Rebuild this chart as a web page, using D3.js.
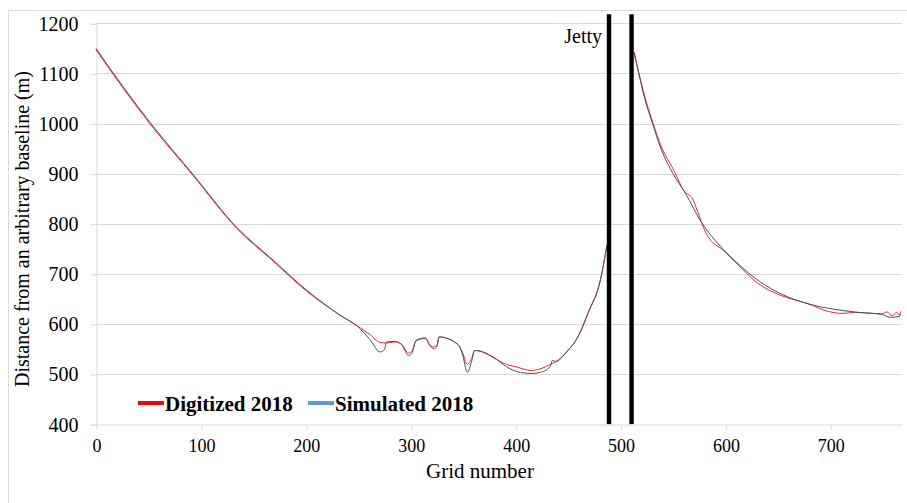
<html>
<head>
<style type="text/css">
	body { margin: 0; background: white; }
	svg text { font-family: "Liberation Serif", "DejaVu Serif", serif; fill: black; }
	.grid line { stroke: #d9d9d9; stroke-width: 1; }
	.axis path, .axis line { stroke: #d9d9d9; }
	.line.digitized { fill: none; stroke: #f22; stroke-width: 1; }
	.line.simulated { fill: none; stroke: #44546a; stroke-width: 1; }
</style>
<script src="https://d3js.org/d3.v7.min.js"></script>
</head>
<body>
<script type="text/javascript">

// simulated 2018 shoreline (grid number, distance); null = break at the jetty
var simGrid = [0, 26, 55, 93, 134, 169, 201, 230, 252, 261, 271, 275, 277, 285, 291, 298, 301, 305, 314, 318, 322, 325, 327,
	345, 349, 354, 358, 361, 382, 388, 401, 415, 423, 433, 435, 438, 449, 460, 469, 481, 487,
	500,
	513, 517, 523, 530, 539, 550, 562, 577, 593, 612, 631, 654, 679, 701, 727, 749, 757, 766, 767];
var simValue = [1150, 1073, 993, 897, 793, 727, 667, 621, 590, 569, 544, 549, 564, 565, 559, 537, 541, 567, 572, 559, 550, 555, 574,
	559, 542, 503, 525, 547, 529, 519, 505, 501, 503, 515, 527, 525, 545, 577, 622, 690, 757,
	null,
	1140, 1103, 1050, 1003, 947, 900, 860, 803, 760, 720, 687, 659, 640, 630, 623, 619, 613, 615, 621];

// digitized 2018 shoreline
var digGrid = [0, 26, 55, 93, 134, 169, 201, 230, 252, 261, 271, 277, 285, 291, 298, 301, 305, 314, 318, 322, 325, 327,
	345, 349, 354, 358, 361, 382, 388, 401, 415, 423, 433, 438, 449, 460, 469, 481, 487,
	500,
	513, 517, 523, 530, 539, 550, 562, 565, 568, 573, 581, 600, 612, 631, 641, 654, 679, 698, 711, 724, 733, 749, 754, 759, 763, 766, 767];
var digValue = [1147, 1070, 990, 895, 791, 725, 665, 621, 592, 579, 563, 562, 564, 560, 542, 545, 566, 571, 557, 554, 557, 574,
	559, 545, 519, 531, 547, 529, 522, 514, 507, 510, 519, 524, 545, 576, 621, 689, 757,
	null,
	1143, 1105, 1055, 1007, 953, 910, 862, 858, 852, 827, 783, 743, 718, 681, 668, 656, 640, 625, 621, 623, 622, 620, 624, 616, 623, 618, 625];

var jettyGrid = [489, 510.5];
var jettyTop = 1218;

var xTicks = [0, 100, 200, 300, 400, 500, 600, 700];
var yTicks = [400, 500, 600, 700, 800, 900, 1000, 1100, 1200];

var seriesNames = ["Digitized 2018", "Simulated 2018"];
var seriesColors = ["#ff0000", "#5b9bd5"];

var serif = "Liberation Serif, DejaVu Serif, serif";

function draw() {
	var width = 907, height = 503;

	var x = d3.scaleLinear().domain([0, 768]).range([96, 901.7]);
	var y = d3.scaleLinear().domain([400, 1200]).range([424.1, 23.3]);

	var svg = d3.select("body").append("svg")
		.attr("width", width)
		.attr("height", height);

	// outer chart border
	svg.append("rect")
		.attr("x", 8.5).attr("y", 10.5)
		.attr("width", 910).attr("height", 500)
		.attr("fill", "none").attr("stroke", "#d9d9d9");

	// horizontal gridlines
	svg.append("g").attr("class", "grid")
		.selectAll("line").data(yTicks.slice(1)).enter()
		.append("line")
			.attr("x1", x(0)).attr("x2", x(768))
			.attr("y1", function(d) { return Math.round(y(d)) + 0.5; })
			.attr("y2", function(d) { return Math.round(y(d)) + 0.5; });

	var yAxis = d3.axisLeft(y).tickValues(yTicks).tickFormat(d3.format("d")).tickSize(6).tickPadding(12);
	svg.append("g").attr("class", "y axis")
		.attr("transform", "translate(" + (Math.round(x(0)) + 0.5) + ",0.5)")
		.call(yAxis)
		.attr("font-family", null)
		.call(function(g) { g.selectAll("text").style("font-size", "20px"); });

	var xAxis = d3.axisBottom(x).tickValues(xTicks).tickFormat(d3.format("d")).tickSize(5).tickSizeOuter(0).tickPadding(10);
	svg.append("g").attr("class", "x axis")
		.attr("transform", "translate(0.5," + (Math.round(y(400)) + 0.5) + ")")
		.call(xAxis)
		.attr("font-family", null)
		.call(function(g) { g.selectAll("text").style("font-size", "18px"); });

	var line = d3.line()
		.defined(function(d) { return d[1] !== null; })
		.x(function(d) { return x(d[0]); })
		.y(function(d) { return y(d[1]); })
		.curve(d3.curveMonotoneX);

	svg.append("path")
		.attr("class", "line digitized")
		.attr("d", line(d3.zip(digGrid, digValue)));

	svg.append("path")
		.attr("class", "line simulated")
		.attr("d", line(d3.zip(simGrid, simValue)));

	// jetty walls
	svg.selectAll("rect.jetty").data(jettyGrid).enter()
		.append("rect")
			.attr("class", "jetty")
			.attr("x", function(d) { return x(d) - 2.2; })
			.attr("y", y(jettyTop))
			.attr("width", 4.4)
			.attr("height", y(400) - y(jettyTop))
			.attr("fill", "black");

	svg.append("text")
		.attr("x", x(jettyGrid[0]) - 7).attr("y", 43)
		.attr("text-anchor", "end")
		.style("font-size", "20px")
		.text("Jetty");

	// axis titles
	svg.append("text")
		.attr("x", 480).attr("y", 478)
		.attr("text-anchor", "middle")
		.style("font-size", "21px")
		.text("Grid number");

	svg.append("text")
		.attr("transform", "translate(29,229) rotate(-90)")
		.attr("text-anchor", "middle")
		.style("font-size", "20px")
		.text("Distance from an arbitrary baseline (m)");

	// legend
	var legendX = [138, 308];
	var legend = svg.selectAll("g.legend").data(seriesNames).enter()
		.append("g")
			.attr("class", "legend")
			.attr("transform", function(d, i) { return "translate(" + legendX[i] + ",403)"; });

	legend.append("line")
		.attr("x1", 0).attr("x2", 26)
		.attr("stroke", function(d, i) { return seriesColors[i]; })
		.attr("stroke-width", 4);

	legend.append("text")
		.attr("x", 27).attr("y", 8)
		.style("font-size", "21px")
		.style("font-weight", "bold")
		.text(function(d) { return d; });
}

draw();

</script>
</body>
</html>
